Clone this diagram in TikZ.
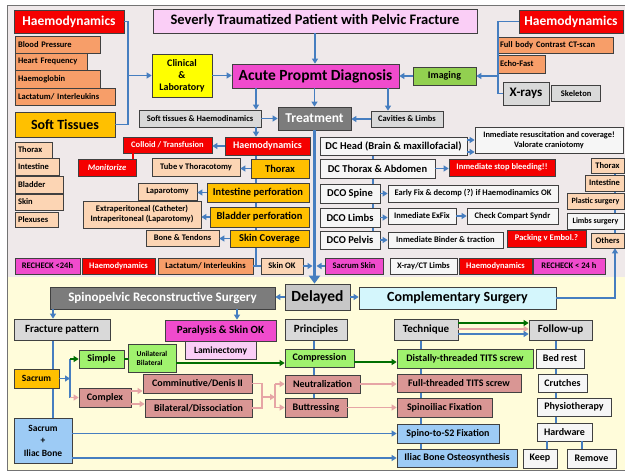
\documentclass[tikz,border=0pt]{standalone}
\usepackage{fontspec}
\setmainfont{Carlito}
\usetikzlibrary{positioning, arrows.meta}

\definecolor{bgtop}{RGB}{239,233,234}
\definecolor{bgbot}{RGB}{255,252,218}
\definecolor{hred}{RGB}{245,0,0}
\definecolor{horange}{RGB}{247,158,105}
\definecolor{hgold}{RGB}{255,192,0}
\definecolor{hpeach}{RGB}{252,213,180}
\definecolor{hmag}{RGB}{240,75,205}
\definecolor{hpink}{RGB}{250,206,246}
\definecolor{hyellow}{RGB}{255,255,0}
\definecolor{hgreen}{RGB}{146,208,80}
\definecolor{hgrey}{RGB}{217,217,217}
\definecolor{hdark}{RGB}{124,124,124}
\definecolor{hwhite}{RGB}{246,246,246}
\definecolor{hcyan}{RGB}{212,246,252}
\definecolor{hlgreen}{RGB}{160,242,110}
\definecolor{hrose}{RGB}{217,150,148}
\definecolor{hblue}{RGB}{157,203,245}
\definecolor{lblue}{RGB}{70,126,192}
\definecolor{dgreen}{RGB}{0,110,0}
\definecolor{lrose}{RGB}{230,165,165}

\pgfdeclarelayer{bg}
\pgfsetlayers{bg,main}

\tikzset{
    box/.style={draw=black!75, line width=0.7pt, inner sep=1pt, align=center, font=\bfseries\fontsize{8.5}{8.5}\selectfont}, % every box
    fz/.style={font=\bfseries\fontsize{#1}{#1}\selectfont}, % text size
    sz/.style 2 args={minimum width=#1pt, minimum height=#2pt},
    lst/.style={text width=#1pt, align=left, inner xsep=3pt}, % left aligned lists
    redb/.style={box, fill=hred, text=white},
    orb/.style={box, fill=horange},
    goldb/.style={box, fill=hgold},
    peachb/.style={box, fill=hpeach},
    magb/.style={box, fill=hmag},
    pinkb/.style={box, fill=hpink},
    yellowb/.style={box, fill=hyellow},
    greenb/.style={box, fill=hgreen},
    greyb/.style={box, fill=hgrey},
    darkb/.style={box, fill=hdark, text=white},
    whiteb/.style={box, fill=hwhite},
    cyanb/.style={box, fill=hcyan},
    lgreenb/.style={box, fill=hlgreen},
    roseb/.style={box, fill=hrose},
    blueb/.style={box, fill=hblue},
    ln/.style={draw=lblue, line width=1.9pt},
    arr/.style={ln, -{Triangle[length=5pt, width=6pt]}},
    bigarr/.style={draw=lblue, line width=3pt, -{Triangle[length=8pt, width=11pt]}},
    gln/.style={draw=dgreen, line width=1.9pt},
    gar/.style={gln, -{Triangle[length=5pt, width=6pt]}},
    pln/.style={draw=lrose, line width=1.9pt},
    par/.style={pln, -{Triangle[length=5pt, width=6pt]}},
    redln/.style={draw=hred, line width=1.9pt},
}

\begin{document}
\begin{tikzpicture}[x=1pt, y=-1pt]
    \useasboundingbox (0,0) rectangle (625,472);

    % backgrounds
    \begin{pgfonlayer}{bg}
        \fill[bgtop] (7,5) rectangle (625,277);
        \fill[bgbot] (7,277) rectangle (625,470);
        \draw[black!55, line width=0.8pt] (7,5) rectangle (625,470);
    \end{pgfonlayer}

    % nodes top
    \node[pinkb, fz=14.5, sz={324}{24}] (title) at (315,21) {Severly Traumatized Patient with Pelvic Fracture};
    \node[redb, fz=13.5, sz={110}{23}] (hemoL) at (69,21.5) {Haemodynamics};
    \node[orb, lst=79, minimum height=17pt] (bp) at (57.5,44.5) {Blood Pressure};
    \node[orb, lst=66, minimum height=17pt] (hf) at (51,61.5) {Heart Frequency};
    \node[orb, lst=79, minimum height=18pt] (hb) at (57.5,79) {Haemoglobin};
    \node[orb, lst=94, minimum height=17pt] (lac) at (65,96.5) {Lactatum/ Interleukins};
    \node[goldb, fz=14, sz={100}{25}] (soft) at (65,124.5) {Soft Tissues};
    \node[yellowb, fz=10, sz={60}{43}] (clin) at (182,75.5) {Clinical\\[2pt]\&\\[2pt]Laboratory};
    \node[magb, fz=15.5, sz={167}{24}] (acute) at (315.5,76) {Acute Propmt Diagnosis};
    \node[redb, fz=13.5, sz={104}{23}] (hemoR) at (571,21.5) {Haemodynamics};
    \node[orb, lst=110, minimum height=16pt] (ct) at (555,45) {Full body Contrast CT-scan};
    \node[orb, lst=42, minimum height=18pt] (echo) at (521,64) {Echo-Fast};
    \node[greenb, fz=10, sz={63}{18}] (imaging) at (444.5,76) {Imaging};
    \node[greyb, fz=13, sz={46}{23}] (xrays) at (526,93.5) {X-rays};
    \node[greyb, sz={49}{16}, right=2pt of xrays] (skel) {Skeleton};
    \node[greyb, sz={122}{17}] (sth) at (200,118.5) {Soft tissues \& Haemodinamics};
    \node[darkb, fz=13.5, sz={73}{23}] (treat) at (314.5,118.5) {Treatment};
    \node[greyb, sz={72}{16}] (cav) at (407,119) {Cavities \& Limbs};

    % nodes left column
    \node[redb, fz=10, sz={85}{18}] (hemoC) at (267.5,146) {Haemodynamics};
    \node[redb, sz={89}{16}] (colloid) at (167.5,145) {Colloid / Transfusion};
    \node[redb, sz={58}{17}, font=\bfseries\itshape\fontsize{8.5}{8.5}\selectfont] (monit) at (107,167.5) {Monitorize};
    \node[goldb, fz=10.5, sz={58}{19}] (thoraxC) at (280,168.5) {Thorax};
    \node[peachb, sz={88}{18}] (tube) at (196,167) {Tube v Thoracotomy};
    \node[goldb, fz=10.5, sz={102}{19}] (intest) at (258,192.5) {Intestine perforation};
    \node[peachb, sz={59}{17}] (lapar) at (167.5,191.5) {Laparotomy};
    \node[goldb, fz=10.5, sz={99}{20}] (bladder) at (259.5,217) {Bladder perforation};
    \node[peachb, sz={118}{27}] (extra) at (142,214.5) {Extraperitoneal (Catheter)\\[1.5pt]Intraperitoneal (Laparotomy)};
    \node[goldb, fz=10.5, sz={79}{17}] (skinC) at (269.5,238.5) {Skin Coverage};
    \node[peachb, sz={73}{16}] (bone) at (182.5,238) {Bone \& Tendons};
    \node[peachb, lst=31, minimum height=16pt] (lThorax) at (33.5,150) {Thorax};
    \node[peachb, lst=38, minimum height=17pt] (lInt) at (37,166.5) {Intestine};
    \node[peachb, lst=42, minimum height=17pt] (lBlad) at (39,184.5) {Bladder};
    \node[peachb, lst=42, minimum height=16pt] (lSkin) at (39,202) {Skin};
    \node[peachb, lst=37, minimum height=15pt] (lPlex) at (36.5,219.5) {Plexuses};

    % nodes recheck row
    \node[magb, sz={65}{16}] (rechL) at (47.5,266) {RECHECK <24h};
    \node[redb, sz={73}{16}] (hemoB) at (118.5,266) {Haemodynamics};
    \node[orb, sz={95}{16}] (lacB) at (205.5,266) {Lactatum/ Interleukins};
    \node[peachb, sz={42}{16}] (skinok) at (282,266) {Skin OK};
    \node[magb, sz={58}{16}] (sacskin) at (354,266) {Sacrum Skin};
    \node[whiteb, sz={67}{16}] (xct) at (423.5,266) {X-ray/CT Limbs};
    \node[redb, sz={73}{16}] (hemoB2) at (495.5,266) {Haemodynamics};
    \node[magb, sz={72}{16}] (rechR) at (569,266) {RECHECK < 24 h};

    % nodes damage control column
    \node[whiteb, fz=10.5, sz={147}{18}] (dchead) at (393.5,146) {DC Head (Brain \& maxillofacial)};
    \node[whiteb, fz=8.3, sz={148}{26}] (immres) at (549,140) {Inmediate resuscitation and coverage!\\[2pt]Valorate craniotomy};
    \node[whiteb, fz=10.5, sz={115}{19}] (dcthor) at (377.5,168.5) {DC Thorax \& Abdomen};
    \node[redb, sz={106}{17}] (stopb) at (502,167.5) {Inmediate stop bleeding!!};
    \node[whiteb, fz=10.5, sz={60}{19}] (dcospine) at (350,193.5) {DCO Spine};
    \node[whiteb, sz={170}{17}] (early) at (473,193.5) {Early Fix \& decomp (?) if Haemodinamics OK};
    \node[whiteb, fz=10.5, sz={60}{19}] (dcolimbs) at (350,217.5) {DCO Limbs};
    \node[whiteb, sz={68}{16}] (exfix) at (422,216) {Inmediate ExFix};
    \node[whiteb, sz={91}{16}] (compart) at (512.5,216) {Check Compart Syndr};
    \node[whiteb, fz=10.5, sz={60}{18}] (dcopelvis) at (350,240) {DCO Pelvis};
    \node[whiteb, sz={115}{16}] (binder) at (445.5,240) {Inmediate Binder \& traction};
    \node[redb, sz={79}{17}] (packing) at (546.5,238.5) {Packing v Embol.?};
    \node[peachb, sz={33}{15}] (rThorax) at (607.5,165.5) {Thorax};
    \node[peachb, sz={39}{16}] (rInt) at (604.5,183) {Intestine};
    \node[peachb, fz=8, sz={57}{16}] (rPlast) at (595.5,201) {Plastic surgery};
    \node[whiteb, fz=8, sz={57}{16}] (rLimbs) at (595.5,221) {Limbs surgery};
    \node[peachb, sz={33}{15}] (rOthers) at (607.5,240.5) {Others};

    % nodes delayed surgery
    \node[darkb, fz=13, sz={225}{22}] (spino) at (162.5,298) {Spinopelvic Reconstructive Surgery};
    \node[greyb, fill=black!22, fz=15.5, sz={65}{26}] (delayed) at (317.5,297) {Delayed};
    \node[cyanb, fz=14, sz={197}{22}] (compl) at (457.5,298) {Complementary Surgery};
    \node[greyb, fz=11, sz={96}{21}] (fract) at (62,329.5) {Fracture pattern};
    \node[magb, fz=11, sz={111}{21}] (paral) at (220.5,330.5) {Paralysis \& Skin OK};
    \node[pinkb, fz=9.5, sz={71}{18}, below=0pt of paral] (lamin) {Laminectomy};
    \node[greyb, fz=11, sz={62}{21}] (princ) at (316,329.5) {Principles};
    \node[greyb, fz=11, sz={64}{21}] (tech) at (426,329.5) {Technique};
    \node[greyb, fz=11, sz={63}{20}] (follow) at (560.5,330) {Follow-up};
    \node[lgreenb, fz=10, sz={45}{18}] (simple) at (101.5,359) {Simple};
    \node[lgreenb, fz=7.5, align=left, sz={48}{28}] (unibi) at (152,358) {Unilateral\\[1.5pt]Bilateral};
    \node[goldb, fz=9.5, sz={45}{19}] (sacrum) at (36.5,378.5) {Sacrum};
    \node[roseb, fz=10, sz={52}{19}] (complex) at (105,397.5) {Complex};
    \node[roseb, fz=10, sz={109}{19}] (commin) at (197.5,383.5) {Comminutive/Denis II};
    \node[roseb, fz=10, sz={107}{18}] (bilat) at (198.5,408) {Bilateral/Dissociation};
    \node[lgreenb, fz=10, sz={69}{18}] (compr) at (319.5,358) {Compression};
    \node[roseb, fz=10, sz={75}{18}] (neutr) at (322.5,384) {Neutralization};
    \node[roseb, fz=10, sz={62}{19}] (buttr) at (316,407.5) {Buttressing};
    \node[lgreenb, fz=10, sz={136}{19}] (dist) at (465,358.5) {Distally-threaded TITS screw};
    \node[roseb, fz=10, sz={124}{18}] (fullt) at (459,383) {Full-threaded TITS screw};
    \node[roseb, fz=10, sz={95}{19}] (spinoil) at (444.5,407.5) {Spinoiliac Fixation};
    \node[blueb, fz=10, sz={102}{19}] (s2) at (448,433.5) {Spino-to-S2 Fixation};
    \node[blueb, fz=10, sz={120}{18}] (iliacO) at (457,458) {Iliac Bone Osteosynthesis};
    \node[blueb, fz=9.5, sz={58}{45}] (sacil) at (43,440.5) {Sacrum\\[3pt]+\\[3pt]Iliac Bone};
    \node[whiteb, fz=10, sz={48}{19}] (bed) at (560,358.5) {Bed rest};
    \node[whiteb, fz=10, sz={49}{18}] (crutch) at (562.5,383) {Crutches};
    \node[whiteb, fz=10, sz={74}{18}] (physio) at (574,407) {Physiotherapy};
    \node[whiteb, fz=10, sz={55}{18}] (hardw) at (564.5,432) {Hardware};
    \node[whiteb, fz=10, sz={34}{19}] (keep) at (540,458.5) {Keep};
    \node[whiteb, fz=10, sz={49}{19}] (remove) at (591.5,458.5) {Remove};

    % junctions and column lines
    \coordinate (jL) at (128,75.5);
    \coordinate (jR) at (498,76);
    \coordinate (jS) at (70,378.5);
    \coordinate (jC1) at (262,397);
    \coordinate (jC2) at (275,397);
    \coordinate (cL) at (256,0);
    \coordinate (cR) at (388,0);
    \coordinate (cD) at (373,0);
    \coordinate (cRR) at (615,0);
    \coordinate (cF) at (53,0);
    \coordinate (cP) at (237,0);
    \coordinate (cPr) at (314,0);
    \coordinate (cT) at (421,0);
    \coordinate (cFu) at (556,0);
    \coordinate (cK) at (547,0);
    \coordinate (cRm) at (582,0);

    \begin{pgfonlayer}{bg}
        \draw[ln] (hemoC.south -| cL) -- (cL |- skinok.west);
        \draw[ln] (dchead.south -| cD) -- (dcopelvis.north -| cD);
        \draw[ln] (rThorax.south -| cRR) -- (rOthers.north -| cRR);
        \draw[ln] (fract.south -| cF) -- (sacil.north -| cF);
        \draw[ln] (princ.south -| cPr) -- (buttr.north -| cPr);
        \draw[ln] (tech.south -| cT) -- (iliacO.north -| cT);
        \draw[ln] (follow.south -| cFu) -- (hardw.north -| cFu);
    \end{pgfonlayer}

    % diagnosis paths
    \draw[ln] (hemoL.east) -| (jL) |- (soft.east);
    \draw[arr] (jL) -- (clin.west);
    \draw[arr] (clin.east) -- (clin.east -| acute.west);
    \draw[ln] (hemoR.west) -| (jR) |- (xrays.west);
    \draw[arr] (jR) -- (imaging.east);
    \draw[arr] (imaging.west) -- (imaging.west -| acute.east);
    \draw[arr] (title.south) -- (title.south |- acute.north);
    \draw[arr] (treat.north |- acute.south) -- (treat.north);
    \draw[arr] (acute.south -| cL) -- (sth.north -| cL);
    \draw[arr] (acute.south -| cR) -- (cav.north -| cR);
    \draw[arr] (sth.east) -- (sth.east -| treat.west);
    \draw[arr] (cav.west) -- (cav.west -| treat.east);

    % treatment paths
    \draw[arr] (sth.south -| cL) -- (hemoC.north -| cL);
    \draw[arr] (hemoC.west) -- (hemoC.west -| colloid.east);
    \draw[redln] ([xshift=-3pt]monit.north east) -- ([xshift=-3pt]monit.north east |- colloid.south);
    \draw[arr] (thoraxC.west) -- (thoraxC.west -| tube.east);
    \draw[arr] (intest.west) -- (intest.west -| lapar.east);
    \draw[arr] (bladder.west) -- (bladder.west -| extra.east);
    \draw[arr] (skinC.west) -- (skinC.west -| bone.east);
    \draw[ln] (lacB.east) -- (skinok.west);
    \draw[bigarr] (treat.south) -- (treat.south |- delayed.north);
    \draw[arr] (skinok.east) -- ([xshift=-2pt]skinok.east -| treat.south);
    \draw[arr] (sacskin.west) -- ([xshift=2pt]sacskin.west -| treat.south);
    \draw[arr] ([yshift=6pt]dchead.east) -- ([yshift=6pt]dchead.east -| immres.west);
    \draw[arr] ([yshift=-6pt]dchead.east) -- ([yshift=-6pt]dchead.east -| immres.west);
    \draw[arr] (dcthor.east) -- (dcthor.east -| stopb.west);
    \draw[arr] (dcospine.east) -- (dcospine.east -| early.west);
    \draw[arr] (dcolimbs.east) -- (dcolimbs.east -| exfix.west);
    \draw[arr] (exfix.east) -- (exfix.east -| compart.west);
    \draw[arr] (dcopelvis.east) -- (dcopelvis.east -| binder.west);

    % delayed surgery paths
    \draw[arr] (delayed.west) -- (delayed.west -| spino.east);
    \draw[arr] (delayed.east) -- (delayed.east -| compl.west);
    \draw[arr] (compl.east) -| (rOthers.south -| cRR);
    \draw[arr] (spino.south -| cF) -- (fract.north -| cF);
    \draw[arr] (spino.south -| cP) -- (paral.north -| cP);
    \draw[arr] (sacrum.east) -- (jS);
    \draw[ln] (jS |- simple.west) -- (jS |- complex.west);
    \draw[gar] (jS |- simple.west) -- (simple.west);
    \draw[par] (jS |- complex.west) -- (complex.west);
    \draw[gln] (simple.east) -- (simple.east -| unibi.west);
    \draw[gar] ([yshift=-5pt]unibi.east) -- ([yshift=-5pt]unibi.east -| compr.west);
    \draw[gar] ([yshift=-4pt]compr.east) -- ([yshift=-4pt]compr.east -| dist.west);
    \draw[par] ([yshift=6.5pt]complex.east) -- ([yshift=6.5pt]complex.east -| commin.west);
    \draw[par] ([yshift=-6.5pt]complex.east) -- ([yshift=-6.5pt]complex.east -| bilat.west);
    \draw[pln] (commin.east) -| (jC1) |- (bilat.east);
    \draw[par] (jC1) -- (jC2);
    \draw[pln] (jC2 |- neutr.west) -- (jC2 |- buttr.west);
    \draw[par] (jC2 |- neutr.west) -- (neutr.west);
    \draw[par] (jC2 |- buttr.west) -- (buttr.west);
    \draw[par] (neutr.east) -- (neutr.east -| fullt.west);
    \draw[par] (buttr.east) -- (buttr.east -| spinoil.west);
    \draw[arr] (sacil.east |- s2.west) -- (s2.west);
    \draw[arr] (sacil.east |- iliacO.west) -- (iliacO.west);
    \draw[gar] ([yshift=6.5pt]tech.east) -- ([yshift=6.5pt]tech.east -| follow.west);
    \draw[par] ([yshift=0.5pt]tech.east) -- ([yshift=0.5pt]tech.east -| follow.west);
    \draw[arr] ([yshift=-4.5pt]tech.east) -- ([yshift=-4.5pt]tech.east -| follow.west);
    \draw[ln] (hardw.south -| cK) -- (keep.north -| cK);
    \draw[ln] (hardw.south -| cRm) -- (remove.north -| cRm);
\end{tikzpicture}
\end{document}
